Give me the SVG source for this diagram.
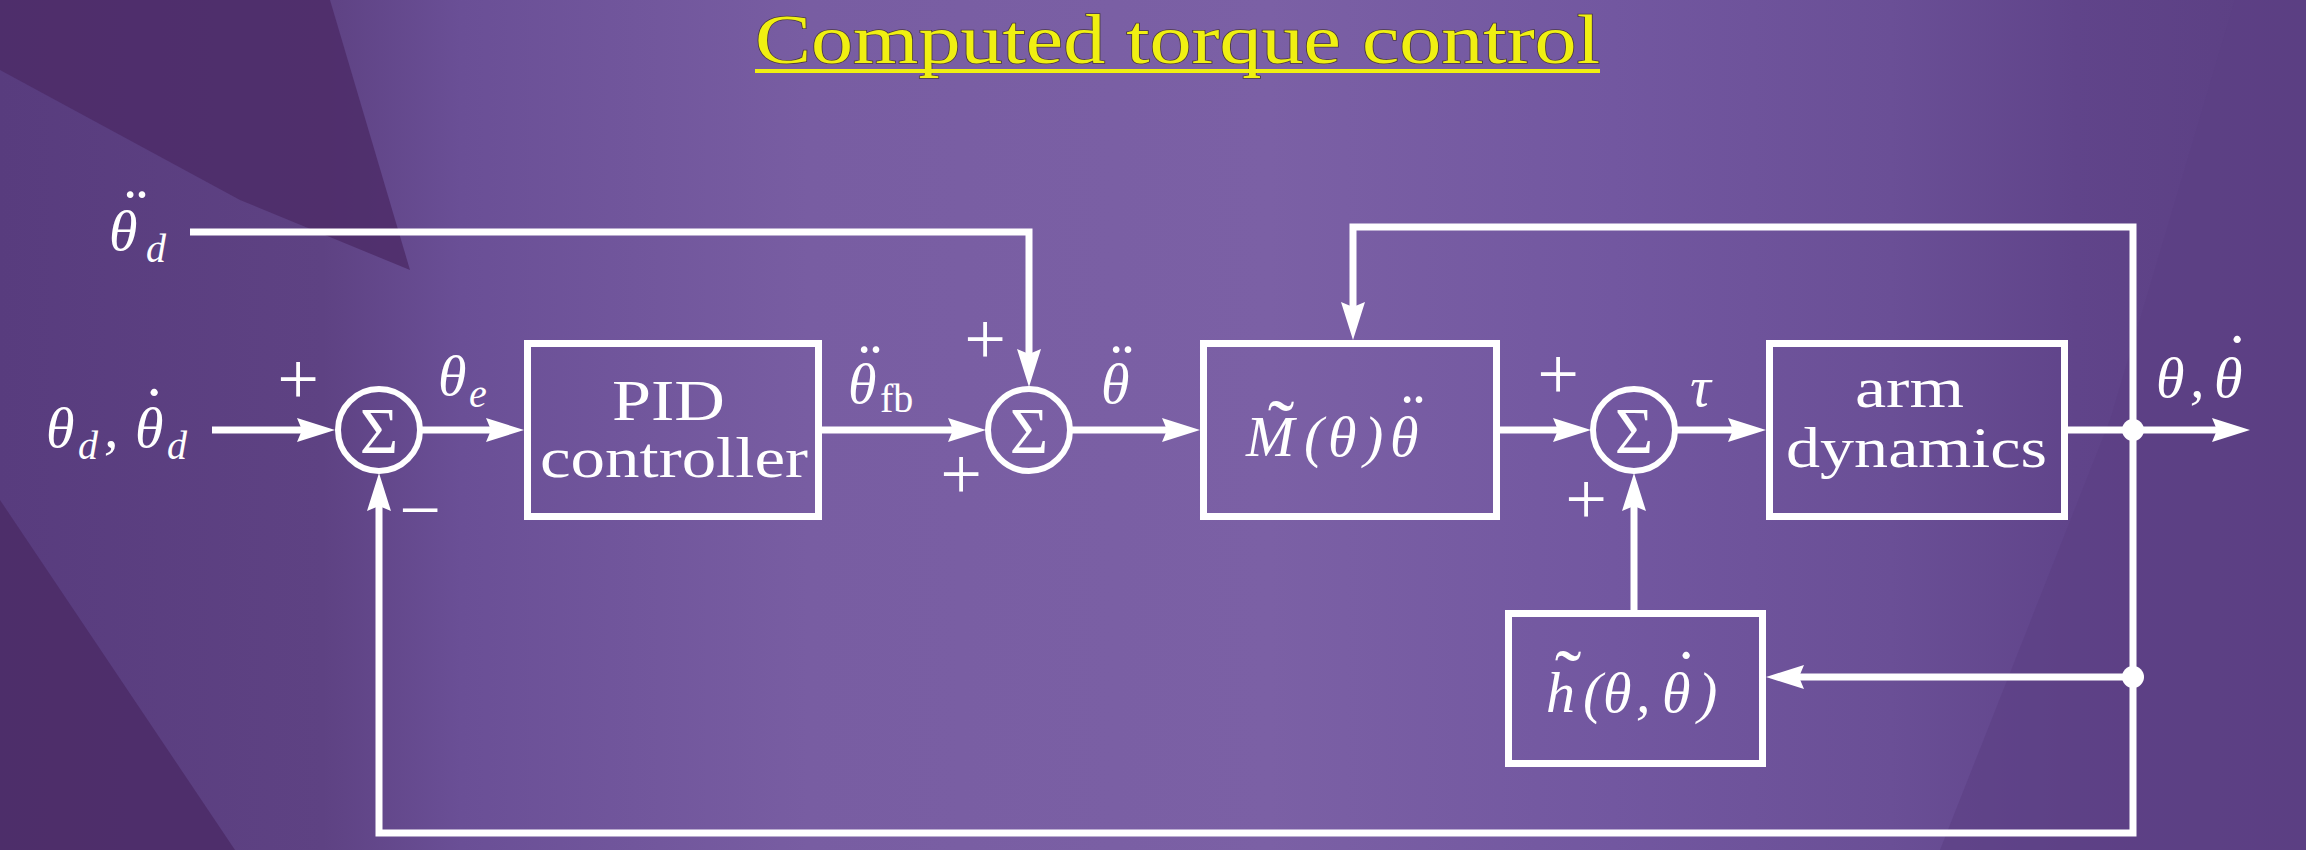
<svg xmlns="http://www.w3.org/2000/svg" width="2306" height="850" viewBox="0 0 2306 850">
<defs>
<linearGradient id="bg" x1="0" y1="0" x2="1" y2="0">
<stop offset="0" stop-color="#583c7e"/>
<stop offset="0.14" stop-color="#5e4283"/>
<stop offset="0.2" stop-color="#6a4f96"/>
<stop offset="0.35" stop-color="#785da2"/>
<stop offset="0.55" stop-color="#7b60a5"/>
<stop offset="0.7" stop-color="#7257a0"/>
<stop offset="0.82" stop-color="#6a4f96"/>
<stop offset="0.9" stop-color="#60448a"/>
<stop offset="1" stop-color="#5b3f82"/>
</linearGradient>
<marker id="ah" viewBox="0 0 38 24" refX="8" refY="12" markerWidth="38" markerHeight="24" markerUnits="userSpaceOnUse" orient="auto">
<path d="M0,0 L38,12 L0,24 L5,12 Z" fill="#ffffff"/>
</marker>
<style>
.ln{fill:none;stroke:#ffffff;stroke-width:7;stroke-linejoin:miter}
.box{fill:none;stroke:#ffffff;stroke-width:7}
.sum{fill:none;stroke:#ffffff;stroke-width:6}
.rm{font-family:"Liberation Serif",serif;fill:#ffffff}
.mi{font-family:"Liberation Serif",serif;font-style:italic;fill:#ffffff;font-size:58px}
.sub{font-family:"Liberation Serif",serif;font-style:italic;fill:#ffffff;font-size:40px}
.acc{font-family:"Liberation Serif",serif;fill:#ffffff;font-size:68px;text-anchor:middle}
.til{font-family:"Liberation Serif",serif;fill:#ffffff;font-size:80px;text-anchor:middle}
.sg{font-family:"Liberation Serif",serif;fill:#ffffff;font-size:66px;text-anchor:middle}
.pm{font-family:"Liberation Serif",serif;fill:#ffffff;font-size:74px;text-anchor:middle}
</style>
</defs>
<g id="background">
<rect x="0" y="0" width="2306" height="850" fill="url(#bg)"/>
<polygon points="0,0 330,0 410,270 240,200 0,70" fill="#4c2b66" opacity="0.8"/>
<polygon points="0,500 0,850 235,850" fill="#4d2c68" opacity="0.9"/>
<polygon points="2235,0 2306,0 2306,850 1940,850 2110,420" fill="#5c4084" opacity="0.6"/>
</g>
<g id="title">
<text x="755" y="63" font-family="Liberation Serif, serif" font-size="70" fill="#f0f011" stroke="#4a3a40" stroke-width="1.5" paint-order="stroke" textLength="845" lengthAdjust="spacingAndGlyphs">Computed torque control</text>
<line x1="755" y1="71" x2="1600" y2="71" stroke="#f0f011" stroke-width="4"/>
</g>
<g id="connectors">
<path class="ln" d="M212,430 H305" marker-end="url(#ah)"/>
<path class="ln" d="M422,430 H494" marker-end="url(#ah)"/>
<path class="ln" d="M822,430 H956" marker-end="url(#ah)"/>
<path class="ln" d="M1072,430 H1170" marker-end="url(#ah)"/>
<path class="ln" d="M1500,430 H1561" marker-end="url(#ah)"/>
<path class="ln" d="M1677,430 H1736" marker-end="url(#ah)"/>
<path class="ln" d="M2068,430 H2220" marker-end="url(#ah)"/>
<path class="ln" d="M190,232 H1029 V357" marker-end="url(#ah)"/>
<path class="ln" d="M2133,430 V227 H1353 V310" marker-end="url(#ah)"/>
<path class="ln" d="M2133,677 H1796" marker-end="url(#ah)"/>
<path class="ln" d="M1634,610 V503" marker-end="url(#ah)"/>
<path class="ln" d="M2133,430 V833 H379 V503" marker-end="url(#ah)"/>
<circle cx="2133" cy="430" r="11" fill="#ffffff"/>
<circle cx="2133" cy="677" r="11" fill="#ffffff"/>
</g>
<g id="feedforward-label">
<text class="mi" x="109" y="250">θ</text>
<text class="acc" x="136" y="234">¨</text>
<text class="sub" x="146" y="262">d</text>
</g>
<g id="input-label">
<text class="mi" x="46" y="447">θ</text>
<text class="sub" x="78" y="459">d</text>
<text class="mi" x="104" y="447">,</text>
<text class="mi" x="135" y="447">θ</text>
<text class="acc" x="154" y="434">˙</text>
<text class="sub" x="167" y="459">d</text>
</g>
<g id="sum1">
<circle class="sum" cx="379" cy="430" r="41"/>
<text class="sg" x="379" y="453">Σ</text>
<text class="pm" x="298" y="404">+</text>
<text class="pm" x="420" y="535">−</text>
<text class="mi" x="438" y="395">θ</text>
<text class="sub" x="469" y="407">e</text>
</g>
<g id="pid">
<rect class="box" x="527.5" y="343.5" width="291" height="173"/>
<text class="rm" x="612" y="420" font-size="58" textLength="113" lengthAdjust="spacingAndGlyphs">PID</text>
<text class="rm" x="540" y="477" font-size="58" textLength="268" lengthAdjust="spacingAndGlyphs">controller</text>
</g>
<g id="fb-label">
<text class="mi" x="848" y="403">θ</text>
<text class="acc" x="870" y="389">¨</text>
<text class="rm" x="880" y="412" font-size="40">fb</text>
</g>
<g id="sum2">
<circle class="sum" cx="1029" cy="430" r="41"/>
<text class="sg" x="1029" y="453">Σ</text>
<text class="pm" x="985" y="364">+</text>
<text class="pm" x="961" y="499">+</text>
</g>
<g id="accel-label">
<text class="mi" x="1101" y="403">θ</text>
<text class="acc" x="1122" y="389">¨</text>
</g>
<g id="mass-block">
<rect class="box" x="1203.5" y="343.5" width="293" height="173"/>
<text class="mi" y="456" font-size="60"><tspan x="1246">M</tspan><tspan x="1304">(</tspan><tspan x="1328">θ</tspan><tspan x="1364">)</tspan><tspan x="1390">θ</tspan></text>
<text class="til" x="1281" y="455">˜</text>
<text class="acc" x="1413" y="439">¨</text>
</g>
<g id="sum3">
<circle class="sum" cx="1634" cy="430" r="41"/>
<text class="sg" x="1634" y="453">Σ</text>
<text class="pm" x="1558" y="399">+</text>
<text class="pm" x="1586" y="524">+</text>
<text class="mi" x="1690" y="406">τ</text>
</g>
<g id="arm">
<rect class="box" x="1769.5" y="343.5" width="295" height="173"/>
<text class="rm" x="1855" y="407" font-size="58" textLength="109" lengthAdjust="spacingAndGlyphs">arm</text>
<text class="rm" x="1786" y="467" font-size="58" textLength="261" lengthAdjust="spacingAndGlyphs">dynamics</text>
</g>
<g id="h-block">
<rect class="box" x="1508.5" y="613.5" width="254" height="150"/>
<text class="mi" y="712" font-size="56"><tspan x="1546">h</tspan><tspan x="1583">(</tspan><tspan x="1603">θ</tspan><tspan x="1636">,</tspan><tspan x="1662">θ</tspan><tspan x="1698">)</tspan></text>
<text class="til" x="1568" y="705">˜</text>
<text class="acc" x="1686" y="697">˙</text>
</g>
<g id="output-label">
<text class="mi" x="2156" y="397">θ</text>
<text class="mi" x="2190" y="397">,</text>
<text class="mi" x="2214" y="397">θ</text>
<text class="acc" x="2237" y="381">˙</text>
</g>
</svg>
